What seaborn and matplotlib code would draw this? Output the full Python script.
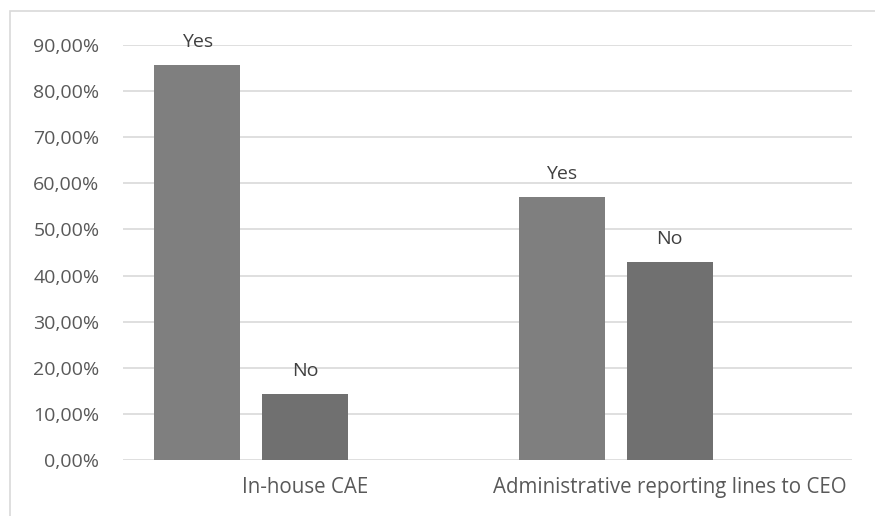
import matplotlib
matplotlib.use("Agg")
import matplotlib.pyplot as plt
from matplotlib.patches import Rectangle
from matplotlib.ticker import FuncFormatter
import seaborn as sns
import pandas as pd

# Survey shares per category and answer
categories = ["In-house CAE", "Administrative reporting lines to CEO"]
answers = ["Yes", "No"]
yes_share = [85.71, 57.14]
no_share = [14.29, 42.86]
y_ticks = [0, 10, 20, 30, 40, 50, 60, 70, 80, 90]

df = pd.DataFrame({
    "category": categories * 2,
    "answer": ["Yes"] * len(categories) + ["No"] * len(categories),
    "share": yes_share + no_share,
})

sns.set_theme(style="white")
plt.rcParams["font.family"] = ["Open Sans", "DejaVu Sans"]

fig = plt.figure(figsize=(8.75, 5.16), dpi=100)
W, H = 875, 516
ax = fig.add_axes([123 / W, 1 - 460 / H, (852 - 123) / W, (460 - 45) / H])

# third (empty) slot keeps the same spacing as the original grouped layout
hue_order = ["Yes", "No", " "]
palette = {"Yes": "#7f7f7f", "No": "#707070", " ": "#7f7f7f"}
sns.barplot(data=df, x="category", y="share", hue="answer",
            hue_order=hue_order, order=categories, palette=palette,
            width=0.889, gap=0.204, legend=False, ax=ax,
            edgecolor="none", linewidth=0, errorbar=None)

FS = 14
ax.set_ylim(0, 90)
ax.set_xlim(-0.5, 1.5)
ax.set_yticks(y_ticks)
ax.yaxis.set_major_formatter(FuncFormatter(lambda v, p: f"{v:.2f}%".replace(".", ",")))
ax.grid(axis="y", color="#d9d9d9", linewidth=1.2)
ax.set_axisbelow(True)
for s in ax.spines.values():
    s.set_visible(False)
ax.tick_params(axis="y", length=0, pad=17, labelsize=FS, labelcolor="#595959")
ax.tick_params(axis="x", length=0, pad=12, labelsize=14.8, labelcolor="#595959")
ax.set_xlabel("")
ax.set_ylabel("")

for container, name in zip(ax.containers, answers):
    ax.bar_label(container, labels=[name] * len(container), padding=10,
                 fontsize=FS, color="#404040", clip_on=False)

# chart frame
fig.patches.append(Rectangle((10 / W, -0.1), 1.2, 1 - 11 / H + 0.1,
                             transform=fig.transFigure, fill=False,
                             edgecolor="#d9d9d9", linewidth=1.2))

fig.savefig("out.png", dpi=100, facecolor="white")
